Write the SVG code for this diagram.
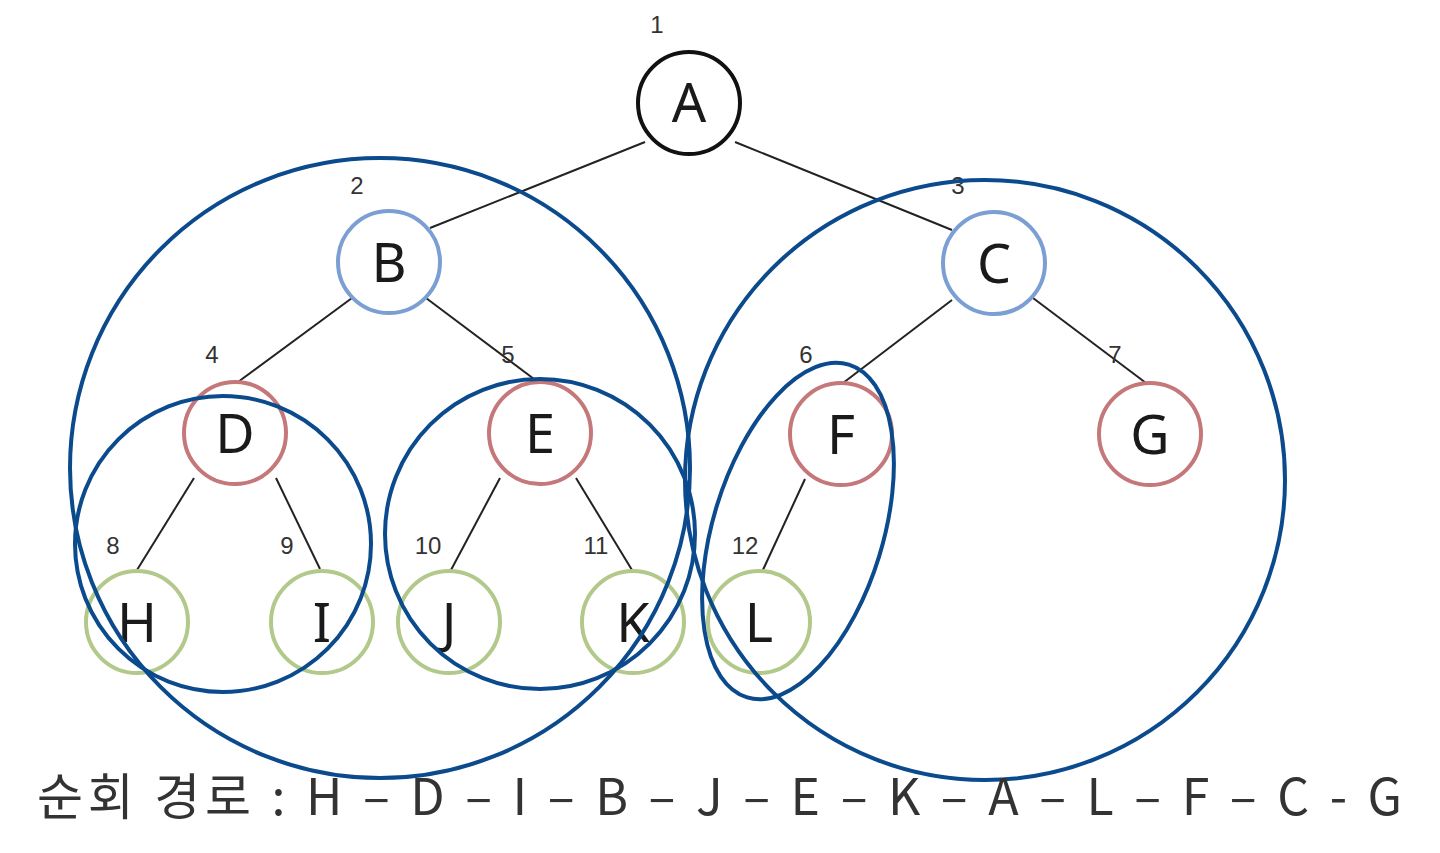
<svg xmlns="http://www.w3.org/2000/svg" width="1440" height="853" viewBox="0 0 1440 853">
<style>
.n{fill:#fff;stroke-width:4}
.root{stroke:#111}
.lv1{stroke:#7c9fd3}
.lv2{stroke:#c47879}
.lv3{stroke:#b3c98b}
.lbl{font-family:"Noto Sans","Liberation Sans",sans-serif;font-size:54px;fill:#1a1a1a;text-anchor:middle}
.num{font-family:"Liberation Sans","Noto Sans",sans-serif;font-size:24px;fill:#333;text-anchor:middle}
.e{stroke:#222;stroke-width:2;fill:none}
.g{fill:none;stroke:#0b4a8c;stroke-width:4}
.path{font-family:"Noto Sans CJK KR","Noto Sans",sans-serif;font-size:50px;fill:#333}
</style>
<rect width="1440" height="853" fill="#fff"/>
<g id="connectors">
<line class="e" x1="645" y1="142" x2="430" y2="228"/>
<line class="e" x1="735" y1="142" x2="952" y2="230"/>
<line class="e" x1="352" y1="298" x2="238" y2="382"/>
<line class="e" x1="426" y1="298" x2="538" y2="382"/>
<line class="e" x1="952" y1="300" x2="843" y2="383"/>
<line class="e" x1="1033" y1="298" x2="1146" y2="383"/>
<line class="e" x1="194" y1="478" x2="137" y2="570"/>
<line class="e" x1="276" y1="478" x2="320" y2="569"/>
<line class="e" x1="500" y1="478" x2="451" y2="570"/>
<line class="e" x1="576" y1="478" x2="632" y2="570"/>
<line class="e" x1="805" y1="479" x2="762" y2="572"/>
</g>
<g id="node-A"><circle class="n root" cx="689" cy="103" r="51"/><text class="lbl" x="689" y="122">A</text><text class="num" x="657" y="33">1</text></g>
<g id="node-B"><circle class="n lv1" cx="389" cy="262" r="51"/><text class="lbl" x="389" y="282">B</text><text class="num" x="357" y="194">2</text></g>
<g id="node-C"><circle class="n lv1" cx="994" cy="263" r="51"/><text class="lbl" x="994" y="283">C</text><text class="num" x="958" y="194">3</text></g>
<g id="node-D"><circle class="n lv2" cx="235" cy="433" r="51"/><text class="lbl" x="235" y="453">D</text><text class="num" x="212" y="363">4</text></g>
<g id="node-E"><circle class="n lv2" cx="540" cy="433" r="51"/><text class="lbl" x="540" y="453">E</text><text class="num" x="508" y="363">5</text></g>
<g id="node-F"><circle class="n lv2" cx="841" cy="434" r="51"/><text class="lbl" x="841" y="454">F</text><text class="num" x="806" y="363">6</text></g>
<g id="node-G"><circle class="n lv2" cx="1150" cy="434" r="51"/><text class="lbl" x="1150" y="454">G</text><text class="num" x="1115" y="363">7</text></g>
<g id="node-H"><circle class="n lv3" cx="137" cy="622" r="51"/><text class="lbl" x="137" y="642">H</text><text class="num" x="113" y="554">8</text></g>
<g id="node-I"><circle class="n lv3" cx="322" cy="622" r="51"/><text class="lbl" x="322" y="642">I</text><text class="num" x="287" y="554">9</text></g>
<g id="node-J"><circle class="n lv3" cx="449" cy="622" r="51"/><text class="lbl" x="449" y="642">J</text><text class="num" x="428" y="554">10</text></g>
<g id="node-K"><circle class="n lv3" cx="633" cy="622" r="51"/><text class="lbl" x="633" y="642">K</text><text class="num" x="596" y="554">11</text></g>
<g id="node-L"><circle class="n lv3" cx="759" cy="622" r="51"/><text class="lbl" x="759" y="642">L</text><text class="num" x="745" y="554">12</text></g>
<g id="groups">
<circle class="g" cx="380" cy="468" r="310"/>
<circle class="g" cx="985" cy="480" r="300"/>
<circle class="g" cx="223" cy="544" r="148"/>
<circle class="g" cx="540" cy="534" r="155"/>
<ellipse class="g" cx="798" cy="531" rx="85" ry="174" transform="rotate(17 798 531)"/>
</g>
<text class="path" x="37" y="815" textLength="1365" lengthAdjust="spacing">순회 경로 : H – D – I – B – J – E – K – A – L – F – C - G</text>
</svg>
